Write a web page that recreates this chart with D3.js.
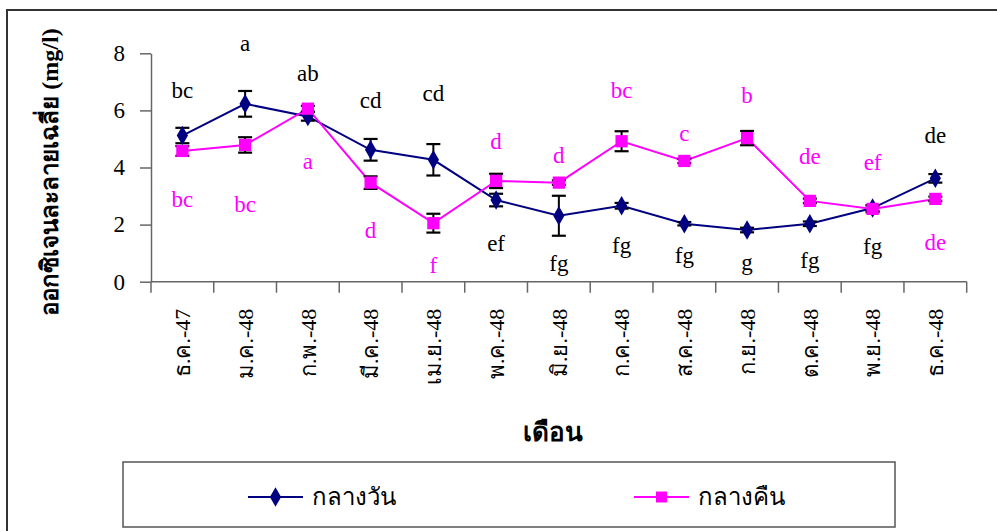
<!DOCTYPE html>
<html>
<head>
<meta charset="utf-8">
<script src="https://cdn.jsdelivr.net/npm/d3@7"></script>
<style>
  html, body { margin: 0; padding: 0; background: #fff; }
  svg { display: block; }
</style>
</head>
<body>
<svg id="chart" width="997" height="531"></svg>
<script>
// Months (Thai abbreviations, Buddhist-era years)
const months = ["ธ.ค.-47", "ม.ค.-48", "ก.พ.-48", "มี.ค.-48", "เม.ย.-48", "พ.ค.-48", "มิ.ย.-48",
                "ก.ค.-48", "ส.ค.-48", "ก.ย.-48", "ต.ค.-48", "พ.ย.-48", "ธ.ค.-48"];

// Mean dissolved oxygen (mg/l) and standard error
const dayMean   = [5.12, 6.23, 5.79, 4.62, 4.27, 2.86, 2.31, 2.66, 2.03, 1.81, 2.03, 2.58, 3.62];
const dayErr    = [0.27, 0.45, 0.15, 0.38, 0.55, 0.22, 0.70, 0.10, 0.06, 0.08, 0.08, 0.10, 0.15];
const nightMean = [4.58, 4.79, 6.06, 3.47, 2.05, 3.53, 3.47, 4.92, 4.23, 5.03, 2.83, 2.55, 2.90];
const nightErr  = [0.17, 0.27, 0.10, 0.22, 0.33, 0.25, 0.08, 0.35, 0.08, 0.25, 0.08, 0.12, 0.08];

// Significance letters and the value at which each is anchored
const dayLetters   = ["bc", "a", "ab", "cd", "cd", "ef", "fg", "fg", "fg", "g", "fg", "fg", "de"];
const dayLetterAt  = [6.72, 8.37, 7.32, 6.37, 6.62, 1.36, 0.66, 1.29, 0.94, 0.69, 0.76, 1.25, 5.14];
const nightLetters = ["bc", "bc", "a", "d", "f", "d", "d", "bc", "c", "b", "de", "ef", "de"];
const nightLetterAt= [2.90, 2.72, 4.23, 1.81, 0.58, 4.93, 4.44, 6.72, 5.21, 6.55, 4.41, 4.20, 1.39];

const yTicks = [0, 2, 4, 6, 8];
const seriesNames = ["กลางวัน", "กลางคืน"];
const yTitle = "ออกซิเจนละลายเฉลี่ย (mg/l)";
const xTitle = "เดือน";

const DAY = "#000080", NIGHT = "#FF00FF";
const SERIF = "'Times New Roman', Tinos, 'Liberation Serif', 'DejaVu Serif', serif";

const svg = d3.select("#chart").attr("font-family", SERIF);

// Outer frame
svg.append("path")
  .attr("d", "M7,531 V10 H1000")
  .attr("fill", "none").attr("stroke", "#333").attr("stroke-width", 2);

const x = d3.scaleBand().domain(months).range([151, 966.7]);
const y = d3.scaleLinear().domain([0, 8]).range([281.7, 53.3]);
const cx = d => x(d) + x.bandwidth() / 2;

// Y axis
const yAxis = svg.append("g").attr("transform", "translate(151,0)")
  .call(d3.axisLeft(y).tickValues(yTicks).tickSize(11).tickPadding(15).tickSizeOuter(0))
  .attr("font-family", SERIF);
yAxis.select(".domain").attr("stroke", "#666").attr("stroke-width", 1.5);
yAxis.selectAll(".tick line").attr("stroke", "#666").attr("stroke-width", 1.5);
yAxis.selectAll(".tick text").attr("font-size", 23).attr("fill", "#000");

// X axis: baseline, boundary ticks, rotated month labels
const xg = svg.append("g").attr("transform", `translate(0,${y(0)})`);
xg.append("line").attr("x1", 151).attr("x2", 966.7).attr("y1", 0).attr("y2", 0)
  .attr("stroke", "#666").attr("stroke-width", 1.5);
const edges = months.map(m => x(m)).concat([x.range()[1]]);
xg.selectAll("line.edge").data(edges).join("line").attr("class", "edge")
  .attr("x1", d => d).attr("x2", d => d).attr("y1", 0).attr("y2", 11)
  .attr("stroke", "#666").attr("stroke-width", 1.5);
xg.selectAll("text.month").data(months).join("text").attr("class", "month")
  .attr("transform", d => `translate(${cx(d)},27) rotate(-90)`)
  .attr("text-anchor", "end").attr("dy", "0.35em")
  .attr("font-size", 22).attr("fill", "#000")
  .text(d => d);

// Axis titles
svg.append("text")
  .attr("transform", "translate(50,172) rotate(-90)")
  .attr("text-anchor", "middle").attr("dy", "0.35em")
  .attr("font-size", 24).attr("font-weight", "bold").attr("fill", "#000")
  .text(yTitle);
svg.append("text")
  .attr("x", 553).attr("y", 432).attr("dy", "0.35em")
  .attr("text-anchor", "middle")
  .attr("font-size", 26).attr("font-weight", "bold").attr("fill", "#000")
  .text(xTitle);

// Series
const series = [
  { mean: dayMean, err: dayErr, color: DAY, shape: d3.symbolDiamond, size: 110, letters: dayLetters, at: dayLetterAt, lcolor: "#000" },
  { mean: nightMean, err: nightErr, color: NIGHT, shape: d3.symbolSquare, size: 150, letters: nightLetters, at: nightLetterAt, lcolor: NIGHT }
];

const line = d3.line().x((d, i) => cx(months[i])).y(d => y(d));

series.forEach(s => {
  svg.append("path").datum(s.mean).attr("d", line)
    .attr("fill", "none").attr("stroke", s.color).attr("stroke-width", 2);
});

series.forEach(s => {
  const g = svg.append("g");
  const pts = s.mean.map((v, i) => ({ m: months[i], v, e: s.err[i] }));
  // error bars
  const eb = g.selectAll("g.eb").data(pts).join("g").attr("class", "eb");
  eb.append("line").attr("x1", d => cx(d.m)).attr("x2", d => cx(d.m))
    .attr("y1", d => y(d.v + d.e)).attr("y2", d => y(d.v - d.e))
    .attr("stroke", "#000").attr("stroke-width", 2);
  eb.append("line").attr("x1", d => cx(d.m) - 7).attr("x2", d => cx(d.m) + 7)
    .attr("y1", d => y(d.v + d.e)).attr("y2", d => y(d.v + d.e))
    .attr("stroke", "#000").attr("stroke-width", 2.2);
  eb.append("line").attr("x1", d => cx(d.m) - 7).attr("x2", d => cx(d.m) + 7)
    .attr("y1", d => y(d.v - d.e)).attr("y2", d => y(d.v - d.e))
    .attr("stroke", "#000").attr("stroke-width", 2.2);
  // markers
  g.selectAll("path.mk").data(pts).join("path").attr("class", "mk")
    .attr("transform", d => `translate(${cx(d.m)},${y(d.v)})`)
    .attr("d", d3.symbol().type(s.shape).size(s.size))
    .attr("fill", s.color);
});

// Significance letters
series.forEach(s => {
  svg.append("g").selectAll("text").data(s.letters).join("text")
    .attr("x", (d, i) => cx(months[i]))
    .attr("y", (d, i) => y(s.at[i]))
    .attr("dy", "0.35em").attr("text-anchor", "middle")
    .attr("font-size", 23).attr("fill", s.lcolor)
    .text(d => d);
});

// Legend
const lg = svg.append("g");
lg.append("rect").attr("x", 123).attr("y", 462).attr("width", 772).attr("height", 65)
  .attr("fill", "#fff").attr("stroke", "#555").attr("stroke-width", 1.5);
const legendItems = [
  { name: seriesNames[0], color: DAY, shape: d3.symbolDiamond, size: 110, x0: 248 },
  { name: seriesNames[1], color: NIGHT, shape: d3.symbolSquare, size: 120, x0: 634 }
];
legendItems.forEach(it => {
  lg.append("line").attr("x1", it.x0).attr("x2", it.x0 + 55).attr("y1", 497).attr("y2", 497)
    .attr("stroke", it.color).attr("stroke-width", 2);
  lg.append("path").attr("transform", `translate(${it.x0 + 27.5},497)`)
    .attr("d", d3.symbol().type(it.shape).size(it.size)).attr("fill", it.color);
  lg.append("text").attr("x", it.x0 + 64).attr("y", 497).attr("dy", "0.35em")
    .attr("font-size", 24).attr("fill", "#000").text(it.name);
});
</script>
</body>
</html>
